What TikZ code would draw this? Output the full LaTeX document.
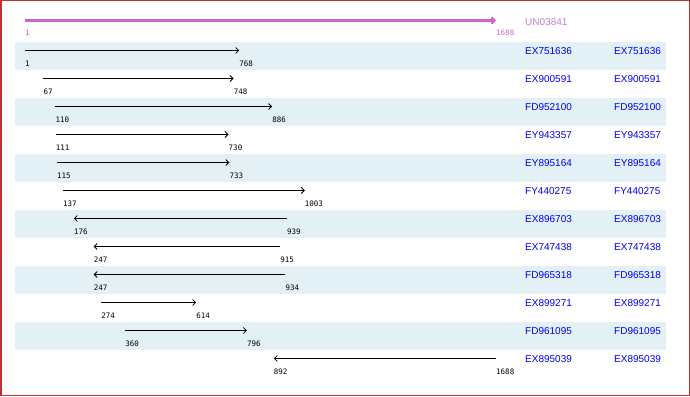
\documentclass[tikz,border=0pt]{standalone}
\usepackage{fontspec}
\setmainfont{Liberation Sans}
\setmonofont{DejaVu Sans Mono}
\usetikzlibrary{arrows.meta}
\definecolor{band}{HTML}{E3F0F5}
\definecolor{qcol}{HTML}{CC66CC}
\definecolor{qtxt}{HTML}{C080C0}
\definecolor{frame}{HTML}{C03030}
\definecolor{accblue}{HTML}{0000EE}

\begin{document}
\begin{tikzpicture}[x=1pt,y=-1pt,
  numlbl/.style={font=\fontsize{7.5}{8}\selectfont\ttfamily,anchor=west,inner sep=0pt},
  acc/.style={font=\fontsize{10}{12}\selectfont,text=accblue,anchor=west,inner sep=0pt},
  fwd/.style={-{Straight Barb[length=3pt,width=6pt]},line width=0.8pt},
  rev/.style={{Straight Barb[length=3pt,width=6pt]}-,line width=0.8pt}]
\useasboundingbox (0,0) rectangle (690,396);
\draw[frame,line width=1.5pt] (0.75,0.75) rectangle (689.25,395.25);

% query line
\coordinate (qs) at (25,20.5);
\coordinate (qe) at (496,20.5);
\draw[qcol,line width=2.2pt,-{Straight Barb[length=3pt,width=6pt]}] (qs) -- (qe);
\node[numlbl,text=qcol] (qsl) at (25,33) {1};
\node[numlbl,text=qcol] (qel) at (496,33) {1688};
\node[acc,text=qtxt] (qname) at (525,22) {UN03841};

% hits
\foreach \name/\s/\e/\dir [count=\i] in {
  EX751636/1/768/fwd, EX900591/67/748/fwd, FD952100/110/886/fwd,
  EY943357/111/730/fwd, EY895164/115/733/fwd, FY440275/137/1003/fwd,
  EX896703/176/939/rev, EX747438/247/915/rev, FD965318/247/934/rev,
  EX899271/274/614/fwd, FD961095/360/796/fwd, EX895039/892/1688/rev}
{
  \pgfmathsetmacro\top{42+28*(\i-1)}
  \pgfmathsetmacro\xs{25+(\s-1)/1687*471}
  \pgfmathsetmacro\xe{25+(\e-1)/1687*471}
  \ifodd\i \fill[band] (15,\top) rectangle (666,\top+28); \fi
  \coordinate (s\i) at (\xs,\top+8.5);
  \coordinate (e\i) at (\xe,\top+8.5);
  \draw[\dir] (s\i) -- (e\i);
  \node[numlbl] (sl\i) at (\xs,\top+22) {\s};
  \node[numlbl] (el\i) at (\xe,\top+22) {\e};
  \node[acc] (n\i) at (525,\top+9.5) {\name};
  \node[acc] (m\i) at (614,\top+9.5) {\name};
}
\end{tikzpicture}
\end{document}
